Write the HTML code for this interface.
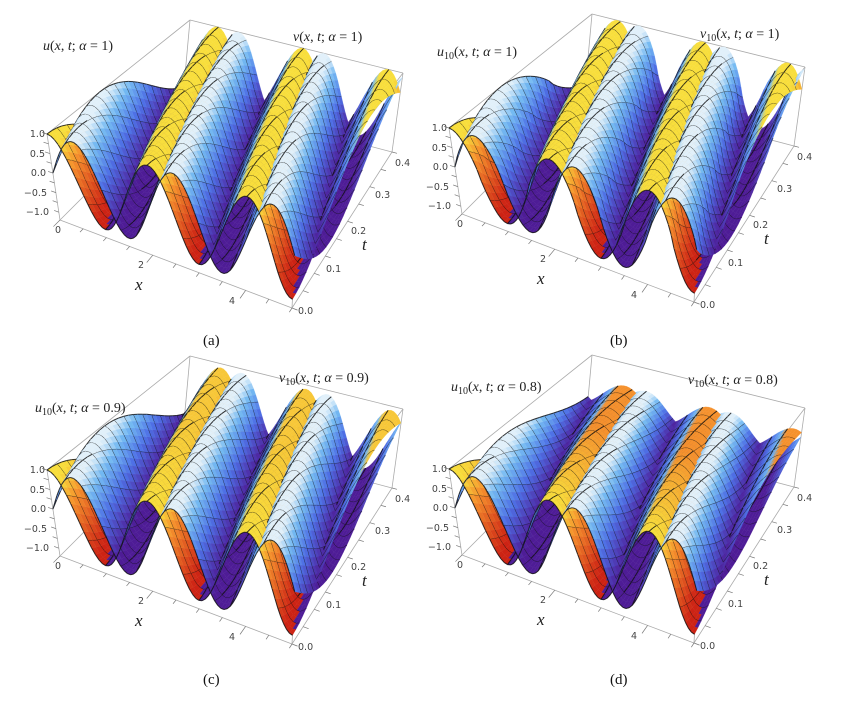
<!DOCTYPE html>
<html><head><meta charset="utf-8"><style>
html,body{margin:0;padding:0;background:#fff}
svg{display:block}
.tk{font-family:"DejaVu Sans","Liberation Sans",sans-serif;font-size:9.5px;fill:#444}
.tt{font-family:"Liberation Serif",serif;font-size:14px;fill:#222}
.ax{font-family:"Liberation Serif",serif;font-style:italic;font-size:17px;fill:#222}
.cap{font-family:"Liberation Serif",serif;font-size:15px;fill:#111}
</style></head><body>
<svg id="s" width="865" height="704" viewBox="0 0 865 704" xmlns="http://www.w3.org/2000/svg">
<g id="boxes"></g>
<g id="surf"></g>
<g id="labels">
<g transform="translate(0,0)">
<text class="tk" x="45" y="137" text-anchor="end">1.0</text>
<text class="tk" x="45" y="157" text-anchor="end">0.5</text>
<text class="tk" x="46" y="176" text-anchor="end">0.0</text>
<text class="tk" x="47" y="196" text-anchor="end">−0.5</text>
<text class="tk" x="49" y="215" text-anchor="end">−1.0</text>
<text class="tk" x="55" y="233">0</text>
<text class="tk" x="138" y="268">2</text>
<text class="tk" x="229" y="304">4</text>
<text class="ax" x="135" y="290">x</text>
<text class="tk" x="298" y="314">0.0</text>
<text class="tk" x="326" y="272">0.1</text>
<text class="tk" x="351" y="234">0.2</text>
<text class="tk" x="375" y="198">0.3</text>
<text class="tk" x="395" y="166">0.4</text>
<text class="ax" x="362" y="250">t</text>
</g>
<g transform="translate(402,-6)">
<text class="tk" x="45" y="137" text-anchor="end">1.0</text>
<text class="tk" x="45" y="157" text-anchor="end">0.5</text>
<text class="tk" x="46" y="176" text-anchor="end">0.0</text>
<text class="tk" x="47" y="196" text-anchor="end">−0.5</text>
<text class="tk" x="49" y="215" text-anchor="end">−1.0</text>
<text class="tk" x="55" y="233">0</text>
<text class="tk" x="138" y="268">2</text>
<text class="tk" x="229" y="304">4</text>
<text class="ax" x="135" y="290">x</text>
<text class="tk" x="298" y="314">0.0</text>
<text class="tk" x="326" y="272">0.1</text>
<text class="tk" x="351" y="234">0.2</text>
<text class="tk" x="375" y="198">0.3</text>
<text class="tk" x="395" y="166">0.4</text>
<text class="ax" x="362" y="250">t</text>
</g>
<g transform="translate(0,336)">
<text class="tk" x="45" y="137" text-anchor="end">1.0</text>
<text class="tk" x="45" y="157" text-anchor="end">0.5</text>
<text class="tk" x="46" y="176" text-anchor="end">0.0</text>
<text class="tk" x="47" y="196" text-anchor="end">−0.5</text>
<text class="tk" x="49" y="215" text-anchor="end">−1.0</text>
<text class="tk" x="55" y="233">0</text>
<text class="tk" x="138" y="268">2</text>
<text class="tk" x="229" y="304">4</text>
<text class="ax" x="135" y="290">x</text>
<text class="tk" x="298" y="314">0.0</text>
<text class="tk" x="326" y="272">0.1</text>
<text class="tk" x="351" y="234">0.2</text>
<text class="tk" x="375" y="198">0.3</text>
<text class="tk" x="395" y="166">0.4</text>
<text class="ax" x="362" y="250">t</text>
</g>
<g transform="translate(402,335)">
<text class="tk" x="45" y="137" text-anchor="end">1.0</text>
<text class="tk" x="45" y="157" text-anchor="end">0.5</text>
<text class="tk" x="46" y="176" text-anchor="end">0.0</text>
<text class="tk" x="47" y="196" text-anchor="end">−0.5</text>
<text class="tk" x="49" y="215" text-anchor="end">−1.0</text>
<text class="tk" x="55" y="233">0</text>
<text class="tk" x="138" y="268">2</text>
<text class="tk" x="229" y="304">4</text>
<text class="ax" x="135" y="290">x</text>
<text class="tk" x="298" y="314">0.0</text>
<text class="tk" x="326" y="272">0.1</text>
<text class="tk" x="351" y="234">0.2</text>
<text class="tk" x="375" y="198">0.3</text>
<text class="tk" x="395" y="166">0.4</text>
<text class="ax" x="362" y="250">t</text>
</g>
<text class="tt" x="43" y="50"><tspan font-style="italic">u</tspan>(<tspan font-style="italic">x</tspan>, <tspan font-style="italic">t</tspan>; <tspan font-style="italic">α</tspan> = 1)</text>
<text class="tt" x="293" y="41"><tspan font-style="italic">v</tspan>(<tspan font-style="italic">x</tspan>, <tspan font-style="italic">t</tspan>; <tspan font-style="italic">α</tspan> = 1)</text>
<text class="tt" x="437" y="56"><tspan font-style="italic">u</tspan><tspan font-size="10" dy="3">10</tspan><tspan dy="-3">(</tspan><tspan font-style="italic">x</tspan>, <tspan font-style="italic">t</tspan>; <tspan font-style="italic">α</tspan> = 1)</text>
<text class="tt" x="700" y="38"><tspan font-style="italic">v</tspan><tspan font-size="10" dy="3">10</tspan><tspan dy="-3">(</tspan><tspan font-style="italic">x</tspan>, <tspan font-style="italic">t</tspan>; <tspan font-style="italic">α</tspan> = 1)</text>
<text class="tt" x="35" y="412"><tspan font-style="italic">u</tspan><tspan font-size="10" dy="3">10</tspan><tspan dy="-3">(</tspan><tspan font-style="italic">x</tspan>, <tspan font-style="italic">t</tspan>; <tspan font-style="italic">α</tspan> = 0.9)</text>
<text class="tt" x="279" y="382"><tspan font-style="italic">v</tspan><tspan font-size="10" dy="3">10</tspan><tspan dy="-3">(</tspan><tspan font-style="italic">x</tspan>, <tspan font-style="italic">t</tspan>; <tspan font-style="italic">α</tspan> = 0.9)</text>
<text class="tt" x="451" y="391"><tspan font-style="italic">u</tspan><tspan font-size="10" dy="3">10</tspan><tspan dy="-3">(</tspan><tspan font-style="italic">x</tspan>, <tspan font-style="italic">t</tspan>; <tspan font-style="italic">α</tspan> = 0.8)</text>
<text class="tt" x="688" y="384"><tspan font-style="italic">v</tspan><tspan font-size="10" dy="3">10</tspan><tspan dy="-3">(</tspan><tspan font-style="italic">x</tspan>, <tspan font-style="italic">t</tspan>; <tspan font-style="italic">α</tspan> = 0.8)</text>
<text class="cap" x="203" y="345">(a)</text>
<text class="cap" x="610" y="345">(b)</text>
<text class="cap" x="203" y="684">(c)</text>
<text class="cap" x="610" y="684">(d)</text>
</g>
</svg>
<script>
(function(){
var F00=[60,220],F10=[292,308],F01=[183,97],F11=[392,152],
    T00=[47,134],T10=[297,212],T01=[190,20],T11=[403,73];
var zmin=-1.2,zmax=1.0;
function bl(A,B,C,D,a,b){return [(A[0]*(1-a)+B[0]*a)*(1-b)+(C[0]*(1-a)+D[0]*a)*b,(A[1]*(1-a)+B[1]*a)*(1-b)+(C[1]*(1-a)+D[1]*a)*b];}
function proj(x,t,z,ox,oy){var a=x/5,b=t/0.45,F=bl(F00,F10,F01,F11,a,b),T=bl(T00,T10,T01,T11,a,b),s=(z-zmin)/(zmax-zmin);
 return [F[0]+(T[0]-F[0])*s+ox,F[1]+(T[1]-F[1])*s+oy];}
function norm(v){var l=Math.hypot(v[0],v[1],v[2]);return [v[0]/l,v[1]/l,v[2]/l];}
function dot(a,b){return a[0]*b[0]+a[1]*b[1]+a[2]*b[2];}
var d=norm([1.3,-2.4,2]);
function mix(a,b,k){k=Math.max(0,Math.min(1,k));return [a[0]+(b[0]-a[0])*k,a[1]+(b[1]-a[1])*k,a[2]+(b[2]-a[2])*k];}
var RED=[205,35,20],ORG=[245,145,45],YEL=[248,222,60],WHT=[225,240,250],LBL=[115,185,242],BLU=[78,112,230],PUR=[78,28,150];
function ramp(h,stops){
 if(h>=stops[0][0])return stops[0][1];
 for(var i=1;i<stops.length;i++){if(h>=stops[i][0]){var a=stops[i-1],b=stops[i];return mix(b[1],a[1],(h-b[0])/(a[0]-b[0]));}}
 return stops[stops.length-1][1];}
function col(q,s,h,tb){var c;
 if(s==0){
  var top=mix(YEL,ORG,tb);
  if(q>0) c=ramp(h,[[0.9,top],[0.65,ORG],[0.05,RED]]);
  else c=ramp(h,[[0.93,top],[0.84,LBL],[0.55,BLU],[0.1,PUR]]);
 } else {
  if(q>0) c=ramp(h,[[0.97,WHT],[0.8,LBL],[0.5,BLU],[0.1,PUR]]);
  else c=ramp(h,[[0.96,WHT],[0.82,LBL],[0.5,BLU],[0.1,PUR]]);
 }
 return 'rgb('+c.map(Math.round).join(',')+')';}
var panels=[
 {ox:0,oy:0,c:3.0,damp:0,w:1,org:0},
 {ox:402,oy:-6,c:3.1,damp:0,w:1.15,org:0},
 {ox:0,oy:336,c:2.8,damp:0.25,w:1,org:0.3},
 {ox:402,oy:335,c:2.6,damp:1.4,w:1,org:1}
];
var boxes='',out='';
panels.forEach(function(P){
 var ox=P.ox,oy=P.oy;
 function p(x,t,z){return proj(x,t,z,ox,oy);}
 var E=[[[0,0,zmin],[5,0,zmin]],[[5,0,zmin],[5,.45,zmin]],[[5,.45,zmin],[0,.45,zmin]],[[0,.45,zmin],[0,0,zmin]],
  [[0,0,zmax],[5,0,zmax]],[[5,0,zmax],[5,.45,zmax]],[[5,.45,zmax],[0,.45,zmax]],[[0,.45,zmax],[0,0,zmax]],
  [[0,0,zmin],[0,0,zmax]],[[5,0,zmin],[5,0,zmax]],[[5,.45,zmin],[5,.45,zmax]],[[0,.45,zmin],[0,.45,zmax]]];
 E.forEach(function(e){var a=p.apply(null,e[0]),b=p.apply(null,e[1]);boxes+='<line x1="'+a[0].toFixed(1)+'" y1="'+a[1].toFixed(1)+'" x2="'+b[0].toFixed(1)+'" y2="'+b[1].toFixed(1)+'" stroke="#aaa" stroke-width="0.8"/>';});
 for(var x=0;x<=5.01;x+=0.5){var a=p(x,0,zmin),b=p(x,-0.012*(x%2==0?2:1),zmin);boxes+='<line x1="'+a[0]+'" y1="'+a[1]+'" x2="'+b[0]+'" y2="'+b[1]+'" stroke="#777" stroke-width="0.7"/>';}
 for(var t=0;t<=0.45;t+=0.05){var a=p(5,t,zmin),b=p(5.12,t,zmin);boxes+='<line x1="'+a[0]+'" y1="'+a[1]+'" x2="'+b[0]+'" y2="'+b[1]+'" stroke="#777" stroke-width="0.7"/>';}
 for(var z=-1;z<=1.01;z+=0.25){var a=p(0,0,z),b=p(-0.1,0,z);boxes+='<line x1="'+a[0]+'" y1="'+a[1]+'" x2="'+b[0]+'" y2="'+b[1]+'" stroke="#777" stroke-width="0.7"/>';}
 var nx=75,nt=30,quads=[];
 function amp(t){return 1-P.damp*t;}
 function fz(s,x,t){var A=amp(t);var ph=Math.PI*(x+P.c*t);var v=s==0?Math.cos(ph):Math.sin(ph);
   if(P.w!=1){v=Math.sign(v)*Math.pow(Math.abs(v),1/P.w);}return A*v;}
 for(var s=0;s<2;s++){
  var Z=[];for(var i=0;i<=nx;i++){Z[i]=[];for(var j=0;j<=nt;j++)Z[i][j]=fz(s,5*i/nx,0.45*j/nt);}
  for(var i=0;i<nx;i++)for(var j=0;j<nt;j++){
   var x0=5*i/nx,x1=5*(i+1)/nx,t0=0.45*j/nt,t1=0.45*(j+1)/nt;
   var z00=Z[i][j],z10=Z[i+1][j],z01=Z[i][j+1],z11=Z[i+1][j+1];
   function W(x,t,z){return [x/5,t/0.45,0.4*(z-zmin)/(zmax-zmin)];}
   var w00=W(x0,t0,z00),w10=W(x1,t0,z10),w01=W(x0,t1,z01),w11=W(x1,t1,z11);
   var cw=[(w00[0]+w11[0])/2-0.5,(w00[1]+w11[1])/2-0.5,(w00[2]+w11[2]+w10[2]+w01[2])/4-0.2];
   var depth=dot(cw,d);
   var a=p(x0,t0,z00),b=p(x1,t0,z10),c=p(x1,t1,z11),e=p(x0,t1,z01);
   var q=(z00+z01)-(z10+z11);
   var zm=(z00+z10+z01+z11)/4, A=amp((t0+t1)/2);
   var h=(zm/A+1)/2;
   var tb=P.org*Math.min(1,(t0/0.45)*1.6);
   var cl=col(q,s,h,tb);
   var str='<path d="M'+a[0].toFixed(1)+','+a[1].toFixed(1)+'L'+b[0].toFixed(1)+','+b[1].toFixed(1)+'L'+c[0].toFixed(1)+','+c[1].toFixed(1)+'L'+e[0].toFixed(1)+','+e[1].toFixed(1)+'Z" fill="'+cl+'" stroke="'+cl+'" stroke-width="0.25"/>';
   var m='';
   if(i%5==0)m+='M'+a[0].toFixed(1)+','+a[1].toFixed(1)+'L'+e[0].toFixed(1)+','+e[1].toFixed(1);
   if(j%2==0)m+='M'+a[0].toFixed(1)+','+a[1].toFixed(1)+'L'+b[0].toFixed(1)+','+b[1].toFixed(1);
   if(m)str+='<path d="'+m+'" stroke="#111" stroke-opacity="0.85" stroke-width="1" fill="none"/>';
   quads.push([depth,str]);
  }
 }
 quads.sort(function(A,B){return A[0]-B[0];});
 out+=quads.map(function(q){return q[1];}).join('');
});
document.getElementById('boxes').innerHTML=boxes;
document.getElementById('surf').innerHTML=out;
})();
</script>
</body></html>
